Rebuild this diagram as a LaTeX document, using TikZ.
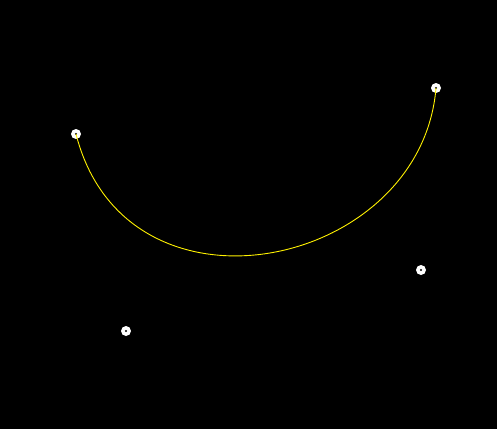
\documentclass[tikz,border=0pt]{standalone}
\begin{document}
\begin{tikzpicture}[x=1pt,y=-1pt,
  handle/.style={circle,fill=white,inner sep=0pt,minimum size=10pt},
  hole/.style={circle,fill=black,inner sep=0pt,minimum size=2.2pt},
  curveline/.style={draw=yellow,line width=0.9pt}]
\fill[black] (0,0) rectangle (497,429);
\useasboundingbox (0,0) rectangle (497,429);
\coordinate (p0) at (76,134);
\coordinate (c1) at (126,331);
\coordinate (c2) at (421,270);
\coordinate (p3) at (436,88);
\foreach \p in {p0,c1,c2,p3}{
  \node[handle] at (\p) {};
  \node[hole] at (\p) {};
}
\draw[curveline] (p0) .. controls (c1) and (c2) .. (p3);
\end{tikzpicture}
\end{document}
